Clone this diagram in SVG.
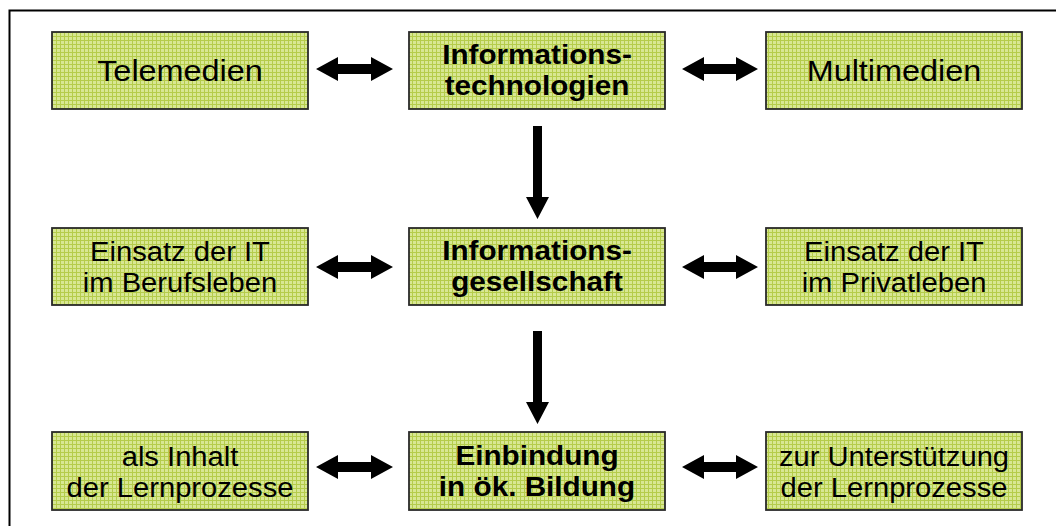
<svg xmlns="http://www.w3.org/2000/svg" width="1056" height="526" viewBox="0 0 1056 526">
<defs>
<pattern id="grid" x="0" y="0" width="4" height="4" patternUnits="userSpaceOnUse">
<rect width="4" height="4" fill="#d8e793"/>
<rect width="4" height="1" fill="#b5cc4b"/>
<rect width="1" height="4" fill="#b5cc4b"/>
</pattern>
<style>
.box{fill:url(#grid);stroke:#2a2a2a;stroke-width:1.8}
.t{font-family:"Liberation Sans",Arial,sans-serif;font-size:27px;fill:#000;text-anchor:middle}
.s{font-size:30px}
.b{font-weight:bold;font-size:27.5px}
.arr{fill:#000}
</style>
</defs>
<rect width="1056" height="526" fill="#fff"/>
<path d="M9.5 526 V10.5 H1056" fill="none" stroke="#000" stroke-width="2"/>

<g id="connectors" class="arr">
<polygon points="316,69 338,57 338,64 371,64 371,57 393,69 371,81 371,74 338,74 338,81"/>
<polygon points="682,69 704,57 704,64 736,64 736,57 758,69 736,81 736,74 704,74 704,81"/>
<polygon points="316,267 338,255 338,262 371,262 371,255 393,267 371,279 371,272 338,272 338,279"/>
<polygon points="682,267 704,255 704,262 736,262 736,255 758,267 736,279 736,272 704,272 704,279"/>
<polygon points="316,467 338,455 338,462 371,462 371,455 393,467 371,479 371,472 338,472 338,479"/>
<polygon points="682,467 704,455 704,462 736,462 736,455 758,467 736,479 736,472 704,472 704,479"/>
<polygon points="533,126 542,126 542,197 549,197 537.5,219 526,197 533,197"/>
<polygon points="533,331 542,331 542,402 549,402 537.5,424 526,402 533,402"/>
</g>

<g id="telemedien"><rect class="box" x="52" y="32" width="256" height="77"/><text class="t s" transform="translate(180 0) scale(1.08 1)" x="0" y="81">Telemedien</text></g>
<g id="it"><rect class="box" x="409" y="32" width="256" height="77"/><text class="t b" transform="translate(537 0) scale(1.08 1)" x="0" y="64">Informations-</text><text class="t b" transform="translate(537 0) scale(1.08 1)" x="0" y="95">technologien</text></g>
<g id="multimedien"><rect class="box" x="766" y="32" width="256" height="77"/><text class="t s" transform="translate(894 0) scale(1.08 1)" x="0" y="81">Multimedien</text></g>

<g id="beruf"><rect class="box" x="52" y="228" width="256" height="77"/><text class="t" transform="translate(180 0) scale(1.08 1)" x="0" y="261">Einsatz der IT</text><text class="t" transform="translate(180 0) scale(1.08 1)" x="0" y="292">im Berufsleben</text></g>
<g id="gesellschaft"><rect class="box" x="409" y="228" width="256" height="77"/><text class="t b" transform="translate(537 0) scale(1.08 1)" x="0" y="260">Informations-</text><text class="t b" transform="translate(537 0) scale(1.08 1)" x="0" y="291">gesellschaft</text></g>
<g id="privat"><rect class="box" x="766" y="228" width="256" height="77"/><text class="t" transform="translate(894 0) scale(1.08 1)" x="0" y="261">Einsatz der IT</text><text class="t" transform="translate(894 0) scale(1.08 1)" x="0" y="292">im Privatleben</text></g>

<g id="inhalt"><rect class="box" x="52" y="432" width="256" height="78"/><text class="t" transform="translate(180 0) scale(1.08 1)" x="0" y="466">als Inhalt</text><text class="t" transform="translate(180 0) scale(1.08 1)" x="0" y="497">der Lernprozesse</text></g>
<g id="einbindung"><rect class="box" x="409" y="432" width="256" height="78"/><text class="t b" transform="translate(537 0) scale(1.08 1)" x="0" y="465">Einbindung</text><text class="t b" transform="translate(537 0) scale(1.08 1)" x="0" y="496">in ök. Bildung</text></g>
<g id="unterstuetzung"><rect class="box" x="766" y="432" width="256" height="78"/><text class="t" transform="translate(894 0) scale(1.08 1)" x="0" y="466">zur Unterstützung</text><text class="t" transform="translate(894 0) scale(1.08 1)" x="0" y="497">der Lernprozesse</text></g>
</svg>
